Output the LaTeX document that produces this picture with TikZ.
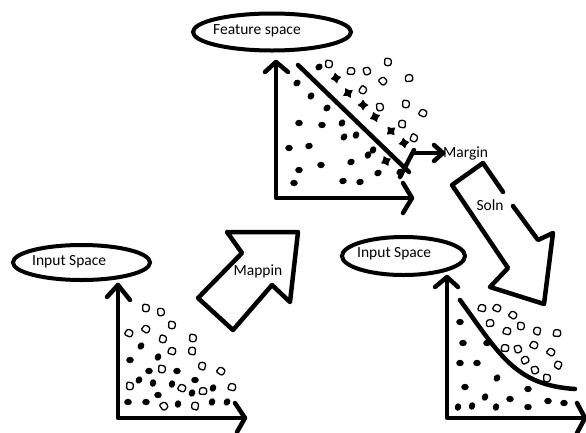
\documentclass[tikz,border=0pt]{standalone}
\usepackage{fontspec}
\setmainfont{Carlito}
\begin{document}
\begin{tikzpicture}[x=1pt,y=-1pt,
  thickline/.style={line width=4.5pt, line cap=round, line join=round},
  oval/.style={line width=4pt},
  blockarrow/.style={line width=4.5pt, line join=round, line cap=round},
  lbl/.style={font=\fontsize{15.5}{18}\selectfont, inner sep=0pt, text=black},
  blob/.style={draw=black, line width=1.3pt, line join=round, rounded corners=1.2pt},
]
\useasboundingbox (0,0) rectangle (586,432);

% ---------- Feature space ----------
\draw[oval] (272,32) ellipse [x radius=79pt, y radius=18.5pt];
\node[lbl, anchor=west] (fs) at (213,31) {Feature space};

\coordinate (o1) at (276,198);
\coordinate (y1) at (276,62);
\coordinate (x1) at (412,198);
\draw[thickline] (y1) -- (o1) -- (x1);
\draw[thickline] (y1) ++(-11,10) -- (y1) -- ++(12,10);
\draw[thickline] (x1) ++(-9,-15) -- (x1) -- ++(-9,15);

\coordinate (d1s) at (298,65);
\coordinate (d1e) at (409,172);
\draw[thickline] (d1s) -- (d1e);

% margin marker
\coordinate (mt1) at (400,177);
\coordinate (mt2) at (414,150);
\draw[thickline] (mt1) -- (mt2);
\node[lbl, anchor=west] (margin) at (443,153) {Margin};
\coordinate (ma) at (413,153);
\draw[thickline] (ma) -- (margin.west);
\draw[thickline] (margin.west) ++(-9,-8) -- (margin.west) -- ++(-9,8);

% top dots
\foreach \x/\y/\r in {297/83/30,311/96/50,327/108/40,342/123/60,299/123/0,322/125/0,344/137/50,356/135/70,309/146/10,289/148/0,368/155/70,373/150/70,351/162/20,321/165/0,299/170/0,378/173/20,343/181/10,360/182/10,294/183/0,400/172/30,319/67/40}
  \fill[rotate around={\r:(\x,\y)}] (\x,\y) ellipse [x radius=3.8pt, y radius=3.2pt];
\foreach \x/\y/\r in {336/78/10,348/93/30,363/105/0,375/117/20,391/131/40,404/143/10,386/161/25}
  \fill[rotate around={\r:(\x,\y)}] (\x,\y-5.5) -- (\x+2.2,\y-2.2) -- (\x+5.5,\y) -- (\x+2.2,\y+2.2) -- (\x,\y+5.5) -- (\x-2.2,\y+2.2) -- (\x-5.5,\y) -- (\x-2.2,\y-2.2) -- cycle;
\foreach \x/\y/\r in {329/64/0,351/71/90,367/71/20,388/62/0,383/81/45,409/78/100,363/90/-30,380/107/10,406/104/0,423/113/70,402/124/180,414/138/-20}
  \draw[blob, rotate around={\r:(\x,\y)}] (\x-3,\y-4) -- (\x+3,\y-3) -- (\x+3.5,\y+2) -- (\x+1,\y+4) -- (\x-3.5,\y+3) -- cycle;

% ---------- Input space (left) ----------
\draw[oval] (81.5,262.5) ellipse [x radius=68.5pt, y radius=17.5pt];
\node[lbl, anchor=west] (is1) at (32,262) {Input Space};

\coordinate (o2) at (118,418);
\coordinate (y2) at (118,285);
\coordinate (x2) at (245,418);
\draw[thickline] (y2) -- (o2) -- (x2);
\draw[thickline] (y2) ++(-11,12) -- (y2) -- ++(12,15);
\draw[thickline] (x2) ++(-10,-15) -- (x2) -- ++(-8,14);

\foreach \x/\y/\r in {141/346/60,130/360/0,158/357/70,149/371/0,177/371/0,139/380/60,153/383/80,172/384/80,195/380/0,213/388/70,158/395/0,192/393/70,128/402/0,146/402/0,178/404/80,212/402/70,227/402/60}
  \fill[rotate around={\r:(\x,\y)}] (\x,\y) ellipse [x radius=3.8pt, y radius=3.2pt];
\foreach \x/\y/\r in {146/308/0,161/312/10,129/333/70,146/329/60,172/325/0,163/339/-10,193/338/0,172/351/80,192/351/180,162/369/0,202/366/170,221/371/60,130/386/0,182/388/70,203/391/90,232/387/80,164/406/40,195/406/175}
  \draw[blob, rotate around={\r:(\x,\y)}] (\x-3,\y-4) -- (\x+3,\y-3) -- (\x+3.5,\y+2) -- (\x+1,\y+4) -- (\x-3.5,\y+3) -- cycle;

% ---------- Mappin arrow ----------
\draw[blockarrow] (227,232) -- (298,232) -- (290,302) -- (272,285) -- (233,330) -- (198,298) -- (242,253) -- cycle;
\node[lbl] (map) at (258,271) {Mappin};

% ---------- Soln arrow ----------
\draw[blockarrow] (513,206) -- (538,240) -- (553,233) -- (544,304) -- (490,287) -- (508,268) -- (452,185) -- (483,163) -- (503,192);
\node[lbl] (soln) at (490,205) {Soln};

% ---------- Input space (right) ----------
\draw[oval] (403.5,256) ellipse [x radius=61.5pt, y radius=19pt];
\node[lbl, anchor=west] (is2) at (357,254) {Input Space};

\coordinate (o3) at (447,418);
\coordinate (y3) at (447,277);
\coordinate (x3) at (585,418);
\draw[thickline] (y3) -- (o3) -- (x3);
\draw[thickline] (y3) ++(-12,10) -- (y3) -- ++(11,10);
\draw[thickline] (x3) ++(-8,-15) -- (x3) -- ++(-8,15);

\coordinate (c1) at (460,300);
\coordinate (c2) at (575,389);
\draw[thickline] (c1) .. controls (500,355) and (515,385) .. (c2);

\foreach \x/\y/\r in {460/322/0,463/343/0,487/343/0,460/363/0,477/363/0,497/378/60,465/387/0,528/389/0,485/397/70,510/399/0,458/407/80,472/406/80,496/407/80,528/407/0,548/401/0,564/403/0}
  \fill[rotate around={\r:(\x,\y)}] (\x,\y) ellipse [x radius=3.8pt, y radius=3.2pt];
\foreach \x/\y/\r in {482/308/80,497/308/70,513/315/60,490/323/100,521/326/0,507/331/80,537/331/170,557/333/90,505/348/90,518/349/20,534/345/70,551/352/60,525/360/120,558/365/160,535/370/20,547/378/0}
  \draw[blob, rotate around={\r:(\x,\y)}] (\x-3,\y-4) -- (\x+3,\y-3) -- (\x+3.5,\y+2) -- (\x+1,\y+4) -- (\x-3.5,\y+3) -- cycle;
\end{tikzpicture}
\end{document}
